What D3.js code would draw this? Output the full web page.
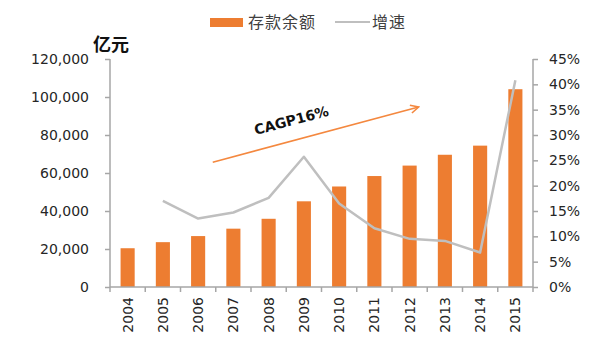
<!DOCTYPE html>
<html>
<head>
<meta charset="utf-8">
<script src="https://cdn.jsdelivr.net/npm/d3@7"></script>
<style>
  html, body { margin: 0; padding: 0; background: #fff; }
  svg { display: block; }
  text { font-family: "DejaVu Sans", Verdana, sans-serif; }
  .cjk { font-family: "Noto Sans CJK SC", sans-serif; }
</style>
</head>
<body>
<svg id="chart" width="600" height="350"></svg>
<script>
// Deposit balance (亿元) and year-on-year growth, 2004–2015
const years = ["2004","2005","2006","2007","2008","2009","2010","2011","2012","2013","2014","2015"];
const deposits = [20400, 23600, 26800, 30700, 35900, 45100, 52900, 58400, 63900, 69600, 74400, 104100];
const growth = [null, 0.170, 0.135, 0.147, 0.176, 0.257, 0.165, 0.116, 0.095, 0.091, 0.068, 0.408];
const leftTicks = [0, 20000, 40000, 60000, 80000, 100000, 120000];
const rightTicks = [0, 0.05, 0.10, 0.15, 0.20, 0.25, 0.30, 0.35, 0.40, 0.45];

const barColor = "#ED7D31";
const lineColor = "#BFBFBF";
const axisColor = "#A6A6A6";
const textColor = "#262626";

const svg = d3.select("#chart");
const plot = { left: 110, right: 533, top: 59, bottom: 287 };

const x = d3.scaleBand().domain(years)
  .range([plot.left, plot.right]).paddingInner(0.6).paddingOuter(0.3);
const yL = d3.scaleLinear().domain([0, 120000]).range([plot.bottom, plot.top]);
const yR = d3.scaleLinear().domain([0, 0.45]).range([plot.bottom, plot.top]);

// bars
svg.append("g").selectAll("rect").data(years).join("rect")
  .attr("x", d => x(d))
  .attr("width", x.bandwidth())
  .attr("y", (d, i) => yL(deposits[i]))
  .attr("height", (d, i) => yL(0) - yL(deposits[i]))
  .attr("fill", barColor);

// growth line
const line = d3.line()
  .defined(d => d.v != null)
  .x(d => x(d.year) + x.bandwidth() / 2)
  .y(d => yR(d.v));
svg.append("path")
  .datum(years.map((year, i) => ({ year, v: growth[i] })))
  .attr("d", line)
  .attr("fill", "none")
  .attr("stroke", lineColor)
  .attr("stroke-width", 2.5)
  .attr("stroke-linejoin", "round");

// left axis
const axL = svg.append("g").attr("transform", `translate(${plot.left},0)`)
  .call(d3.axisLeft(yL).tickValues(leftTicks).tickSize(5).tickPadding(16)
    .tickFormat(d3.format(",")));
// right axis
const axR = svg.append("g").attr("transform", `translate(${plot.right},0)`)
  .call(d3.axisRight(yR).tickValues(rightTicks).tickSize(5).tickPadding(11)
    .tickFormat(d3.format(".0%")));
[axL, axR].forEach(g => {
  g.select(".domain").attr("stroke", axisColor).attr("stroke-width", 1.5);
  g.selectAll(".tick line").attr("stroke", axisColor).attr("stroke-width", 1.5);
  g.selectAll(".tick text").attr("fill", textColor)
    .style("font-size", "14px").style("font-family", "DejaVu Sans, Verdana, sans-serif");
});
axL.select(".domain").attr("d", `M0,${plot.top}V${plot.bottom}`);
axR.select(".domain").attr("d", `M0,${plot.top}V${plot.bottom}`);

// bottom axis: line with ticks on band boundaries
const step = x.step();
const xAxis = svg.append("g");
xAxis.append("line")
  .attr("x1", plot.left).attr("x2", plot.right)
  .attr("y1", plot.bottom).attr("y2", plot.bottom)
  .attr("stroke", axisColor).attr("stroke-width", 1.5);
const bounds = d3.range(years.length + 1).map(i => plot.left + i * step);
xAxis.selectAll(".bt").data(bounds).join("line")
  .attr("x1", d => d).attr("x2", d => d)
  .attr("y1", plot.bottom).attr("y2", plot.bottom + 5)
  .attr("stroke", axisColor).attr("stroke-width", 1.5);
xAxis.selectAll("text").data(years).join("text")
  .attr("transform", d => `translate(${x(d) + x.bandwidth() / 2},${plot.bottom + 10}) rotate(-90)`)
  .attr("text-anchor", "end")
  .attr("dy", "0.35em")
  .attr("fill", textColor)
  .style("font-size", "14px")
  .text(d => d);

// unit label
svg.append("text").attr("class", "cjk")
  .attr("x", 111).attr("y", 51)
  .attr("text-anchor", "middle")
  .attr("font-weight", "bold")
  .attr("fill", "#111")
  .style("font-size", "18px")
  .text("亿元");

// legend
const legend = svg.append("g");
legend.append("rect").attr("x", 210).attr("y", 18).attr("width", 33).attr("height", 9)
  .attr("fill", barColor);
legend.append("text").attr("class", "cjk").attr("x", 248).attr("y", 28)
  .attr("fill", "#404040").style("font-size", "16px").style("letter-spacing", "1px")
  .text("存款余额");
legend.append("line").attr("x1", 335).attr("x2", 370).attr("y1", 22).attr("y2", 22)
  .attr("stroke", lineColor).attr("stroke-width", 2);
legend.append("text").attr("class", "cjk").attr("x", 372).attr("y", 28)
  .attr("fill", "#404040").style("font-size", "16px").style("letter-spacing", "1px")
  .text("增速");

// CAGR trend arrow, anchored on band boundaries and left-axis values
const arrowColor = "#F4883F";
const ax0 = x("2007") - step * 0.3 - 3, ay0 = yL(65700);
const ax1 = x("2012") + x.bandwidth() / 2 + 9, ay1 = yL(94700);
svg.append("defs").append("marker")
  .attr("id", "arrowhead")
  .attr("viewBox", "0 0 10 10").attr("refX", 9).attr("refY", 5)
  .attr("markerWidth", 10).attr("markerHeight", 10)
  .attr("markerUnits", "userSpaceOnUse")
  .attr("orient", "auto")
  .append("path").attr("d", "M1,1 L9,5 L1,9")
  .attr("fill", "none").attr("stroke", arrowColor).attr("stroke-width", 1.6);
svg.append("line")
  .attr("x1", ax0).attr("y1", ay0).attr("x2", ax1).attr("y2", ay1)
  .attr("stroke", arrowColor).attr("stroke-width", 1.6)
  .attr("marker-end", "url(#arrowhead)");
const angle = Math.atan2(ay1 - ay0, ax1 - ax0) * 180 / Math.PI;
svg.append("text")
  .attr("transform", `translate(${ax0 + 80},${ay0 - 37}) rotate(${angle})`)
  .attr("text-anchor", "middle")
  .attr("font-weight", "bold")
  .attr("fill", "#111")
  .style("font-size", "14px")
  .text("CAGP16%");
</script>
</body>
</html>
